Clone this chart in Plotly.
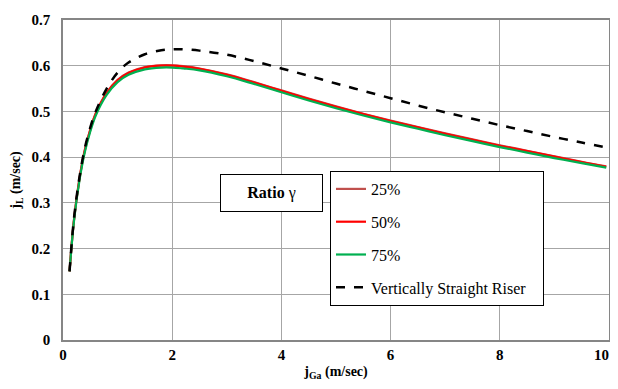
import plotly.graph_objects as go

x_vals = [0.12, 0.2, 0.3, 0.4, 0.5, 0.6, 0.8, 1.0, 1.2, 1.5, 1.8, 2.0, 2.2, 2.5, 3.0, 3.5, 4.0, 4.5, 5.0,
          5.5, 6.0, 6.5, 7.0, 7.5, 8.0, 8.5, 9.0, 9.5, 9.95]
r25 = [0.15, 0.262, 0.352, 0.416, 0.461, 0.496, 0.541, 0.569, 0.585, 0.597, 0.601, 0.601, 0.599, 0.594,
       0.581, 0.564, 0.546, 0.528, 0.511, 0.495, 0.480, 0.466, 0.452, 0.439, 0.426, 0.414, 0.402, 0.390, 0.380]
r50 = [0.15, 0.261, 0.351, 0.415, 0.460, 0.495, 0.540, 0.568, 0.584, 0.596, 0.600, 0.600, 0.598, 0.593,
       0.580, 0.563, 0.545, 0.527, 0.510, 0.494, 0.479, 0.465, 0.451, 0.438, 0.425, 0.413, 0.401, 0.389, 0.379]
r75 = [0.15, 0.259, 0.348, 0.411, 0.456, 0.491, 0.536, 0.564, 0.580, 0.592, 0.596, 0.596, 0.594, 0.590,
       0.577, 0.560, 0.542, 0.524, 0.507, 0.491, 0.476, 0.462, 0.448, 0.435, 0.422, 0.410, 0.398, 0.387, 0.377]
vsr = [0.15, 0.265, 0.355, 0.420, 0.465, 0.500, 0.550, 0.585, 0.607, 0.625, 0.634, 0.636, 0.636, 0.633,
       0.624, 0.610, 0.594, 0.578, 0.561, 0.545, 0.529, 0.513, 0.498, 0.484, 0.470, 0.457, 0.444, 0.432, 0.421]

x_ticks = [0, 2, 4, 6, 8, 10]
y_ticks = [0, 0.1, 0.2, 0.3, 0.4, 0.5, 0.6, 0.7]

font_family = "Liberation Serif"
tick_font = dict(family=font_family, size=15, color="black")

# last x label padded so it stays inside the visible page edge
x_ticktext = [f"<b>{v}</b>" + ("\u00a0" * 4 if v == x_ticks[-1] else "") for v in x_ticks]

fig = go.Figure()
series = [("25%", r25, "#C0504D", "solid"),
          ("50%", r50, "#FF0000", "solid"),
          ("75%", r75, "#00B050", "solid"),
          ("Vertically Straight Riser\u00a0\u00a0\u00a0", vsr, "#000000", "dash")]
for name, ys, col, dash in series:
    fig.add_trace(go.Scatter(x=x_vals, y=ys, mode="lines", name=name, legendgroup=name,
                             line=dict(color=col, width=2.2 if dash == "solid" else 2.5,
                                       dash=dash, shape="spline")))

# page body has an 8px margin; figure is sized so the plot lands where the reference has it
fig.update_layout(
    width=610, height=373,
    margin=dict(l=55, r=9, t=12, b=41),
    paper_bgcolor="white", plot_bgcolor="white",
    font=dict(family=font_family, size=14, color="black"),
    showlegend=True,
    legend=dict(x=(330 - 63) / 546, y=(340 - 171) / 320, xanchor="left", yanchor="top",
                bordercolor="black", borderwidth=1, bgcolor="white",
                font=dict(family=font_family, size=16, color="black"),
                tracegroupgap=9, traceorder="grouped"),
    xaxis=dict(range=[0, 10], tickvals=x_ticks, ticktext=x_ticktext,
               tickfont=tick_font, ticklabeloverflow="allow",
               showgrid=True, gridcolor="#A6A6A6", gridwidth=1,
               showline=True, linecolor="#868686", linewidth=1.5, mirror=True,
               ticks="", zeroline=False, automargin=False,
               title=dict(text="<b>j<sub>Ga</sub> (m/sec)</b>", standoff=12,
                          font=dict(family=font_family, size=14))),
    yaxis=dict(range=[0, 0.7], tickvals=y_ticks, ticktext=[f"<b>{v:g}</b>" for v in y_ticks],
               tickfont=tick_font, ticklabeloverflow="allow",
               showgrid=True, gridcolor="#A6A6A6", gridwidth=1,
               showline=True, linecolor="#868686", linewidth=1.5, mirror=True,
               ticks="", zeroline=False, ticklabelstandoff=8, automargin=False,
               title=dict(text="<b>j<sub>L</sub> (m/sec)</b>", standoff=8,
                          font=dict(family=font_family, size=14))),
)

fig.add_annotation(xref="paper", yref="paper", x=(271 - 63) / 546, y=(340 - 193) / 320,
                   text="<b>Ratio</b> γ", showarrow=False,
                   font=dict(family=font_family, size=16, color="black"),
                   bordercolor="black", borderwidth=1, bgcolor="white",
                   width=97, height=32, borderpad=2)

fig.write_html("out.html")
